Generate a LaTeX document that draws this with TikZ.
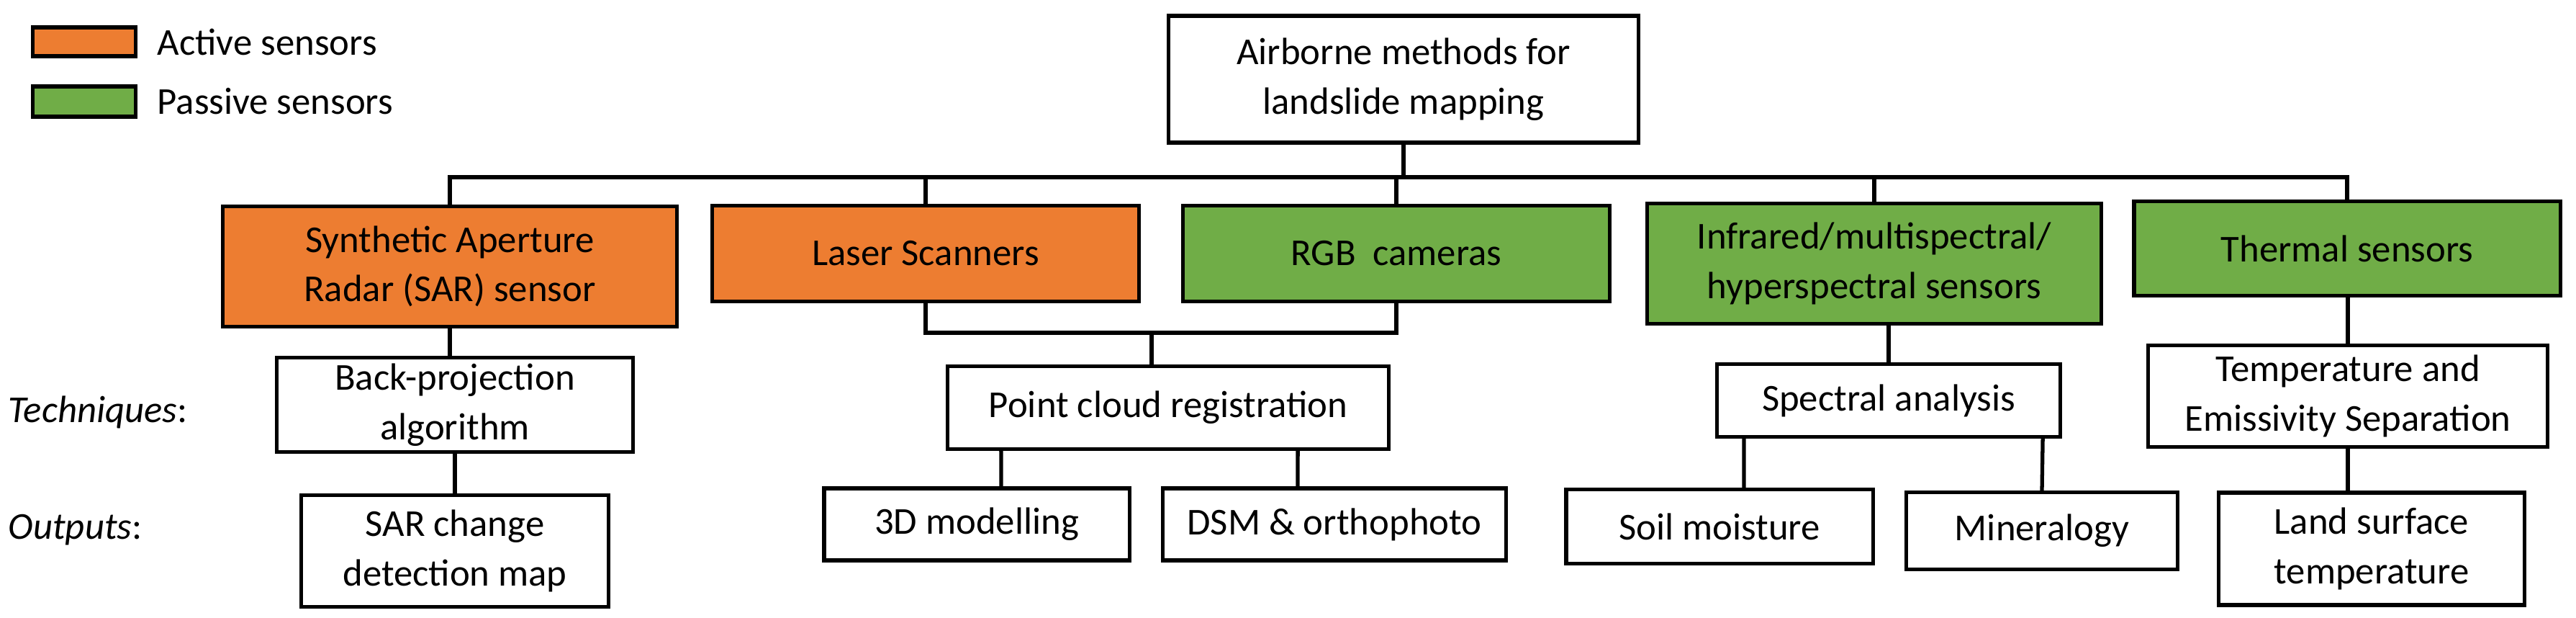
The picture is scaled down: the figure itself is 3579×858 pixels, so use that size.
\documentclass[tikz,border=0pt]{standalone}
\usepackage{fontspec}
\setmainfont{Carlito}
\definecolor{activeorange}{HTML}{ED7D31}
\definecolor{passivegreen}{HTML}{70AD47}
\tikzset{
  box/.style={draw=black, line width=1.5pt, fill=white, inner sep=0pt, align=center,
    font=\fontsize{15}{19.5}\selectfont},
  active/.style={box, fill=activeorange},
  passive/.style={box, fill=passivegreen},
  size/.style 2 args={minimum width=#1cm, minimum height=#2cm},
  link/.style={line width=1.5pt},
  legendtext/.style={anchor=west, inner sep=0pt, font=\fontsize{15}{19.5}\selectfont},
}
\begin{document}
\begin{tikzpicture}[x=0.01cm, y=-0.01cm]
        \useasboundingbox (0,0) rectangle (3579,858);

        % legend
        \node[active, size={1.43}{0.40}] (legA) at (117,58) {};
        \node[passive, size={1.43}{0.42}] (legP) at (117,141) {};
        \node[legendtext] (legAtext) at (218,58) {Active sensors};
        \node[legendtext] (legPtext) at (218,141) {Passive sensors};

        % row labels
        \node[legendtext] (techlabel) at (11,572) {\textit{Techniques}:};
        \node[legendtext] (outlabel) at (11,736) {\textit{Outputs}:};

        % root and sensors
        \node[box, size={6.52}{1.76}] (root) at (1950,110) {Airborne methods for\\landslide mapping};
        \node[active, size={6.31}{1.67}] (sar) at (625,370) {Synthetic Aperture\\Radar (SAR) sensor};
        \node[active, size={5.92}{1.33}] (laser) at (1286,352) {Laser Scanners};
        \node[passive, size={5.93}{1.33}] (rgb) at (1940,352) {RGB\ \ cameras};
        \node[passive, size={6.30}{1.67}] (ir) at (2604,366) {Infrared/multispectral/\\hyperspectral sensors};
        \node[passive, size={5.92}{1.31}] (thermal) at (3261,345) {Thermal sensors};

        % techniques
        \node[box, size={4.95}{1.31}] (backproj) at (632,562) {Back-projection\\algorithm};
        \node[box, size={6.12}{1.15}] (pointcloud) at (1623,566) {Point cloud registration};
        \node[box, size={4.77}{1.01}] (spectral) at (2624,556) {Spectral analysis};
        \node[box, size={5.55}{1.41}] (tes) at (3262,550) {Temperature and\\Emissivity Separation};

        % outputs
        \node[box, size={4.27}{1.55}] (sarchange) at (632,765) {SAR change\\detection map};
        \node[box, size={4.24}{1.00}] (model) at (1357,728) {3D modelling};
        \node[box, size={4.77}{1.00}] (dsm) at (1854,728) {DSM \& orthophoto};
        \node[box, size={4.26}{1.03}] (soil) at (2389,731) {Soil moisture};
        \node[box, size={3.77}{1.07}] (mineral) at (2837,737) {Mineralogy};
        \node[box, size={4.25}{1.56}] (lst) at (3295,762) {Land surface\\temperature};

        % connectors
        \coordinate (bus) at (1950,246);
        \coordinate (bus2) at (1600,462);
        \draw[link] (root.south) -- (root.south |- bus);
        \draw[link] (sar.north) |- (bus -| thermal.north) -- (thermal.north);
        \draw[link] (laser.north) -- (laser.north |- bus);
        \draw[link] (rgb.north) -- (rgb.north |- bus);
        \draw[link] (ir.north) -- (ir.north |- bus);
        \draw[link] (laser.south) |- (rgb.south |- bus2) -- (rgb.south);
        \draw[link] (pointcloud.north -| bus2) -- (bus2);
        \draw[link] (sar.south) -- (backproj.north -| sar.south);
        \draw[link] (backproj.south) -- (sarchange.north);
        \draw[link] ([xshift=-2.32cm]pointcloud.south) -- ([xshift=0.34cm]model.north);
        \draw[link] ([xshift=1.80cm]pointcloud.south) -- ([xshift=-0.51cm]dsm.north);
        \draw[link] (ir.south -| spectral.north) -- (spectral.north);
        \draw[link] ([xshift=-2.01cm]spectral.south) -- ([xshift=0.34cm]soil.north);
        \draw[link] ([xshift=2.14cm]spectral.south) -- (mineral.north);
        \draw[link] (thermal.south -| tes.north) -- (tes.north);
        \draw[link] (tes.south) -- (tes.south |- lst.north);
\end{tikzpicture}
\end{document}
